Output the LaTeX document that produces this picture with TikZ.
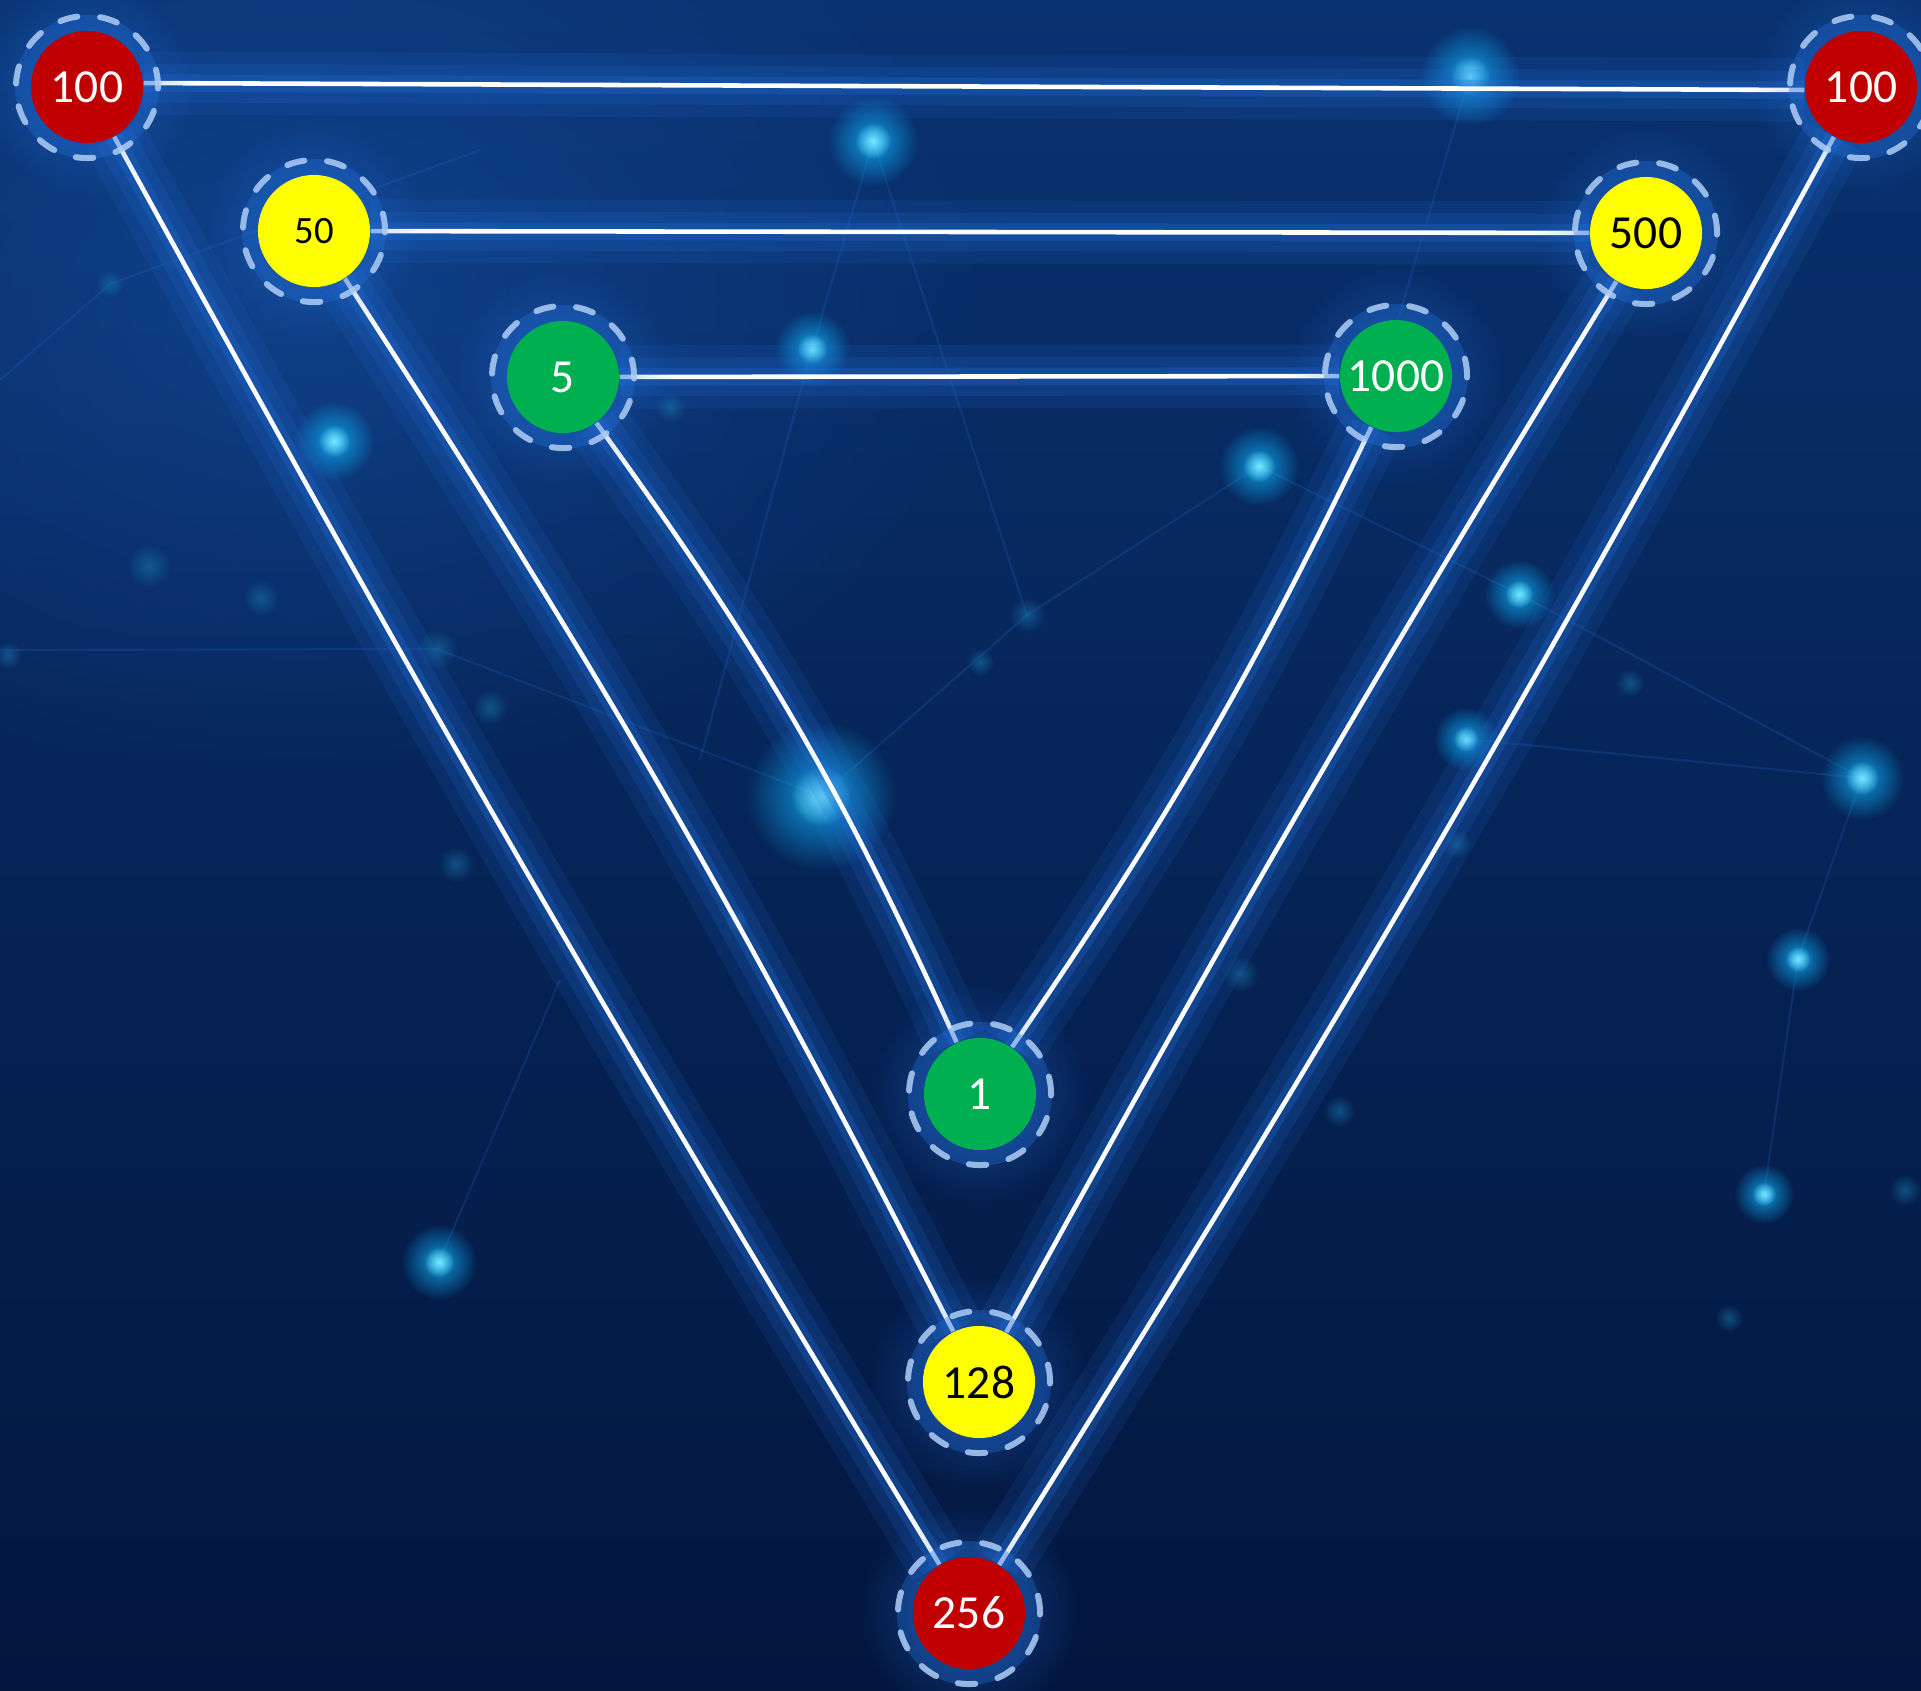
\documentclass[tikz,border=0pt]{standalone}
\usepackage{fontspec}
\setmainfont{Carlito}
\usetikzlibrary{fadings}

\definecolor{ballred}{RGB}{192,0,0}
\definecolor{ballyellow}{RGB}{255,255,0}
\definecolor{ballgreen}{RGB}{0,176,80}
\definecolor{bgtop}{RGB}{9,50,112}
\definecolor{bgbottom}{RGB}{3,22,62}
\definecolor{glowblue}{RGB}{35,110,215}
\definecolor{ringblue}{RGB}{175,205,245}
\definecolor{sparkcyan}{RGB}{15,185,255}
\definecolor{sparkcore}{RGB}{120,230,255}
\definecolor{dotteal}{RGB}{25,120,170}

\tikzfading[name=softglow, inner color=transparent!0, outer color=transparent!100]

\pgfdeclarelayer{back}
\pgfdeclarelayer{wires}
\pgfdeclarelayer{halo}
\pgfsetlayers{back,wires,halo,main}

\begin{document}
\begin{tikzpicture}[
 x=0.01cm, y=-0.01cm,
 ball/.style={circle, minimum size=1.12cm, inner sep=0pt, font=\fontsize{13.5}{15}\selectfont},
 redball/.style={ball, fill=ballred, text=white},
 yellowball/.style={ball, fill=ballyellow, text=black},
 greenball/.style={ball, fill=ballgreen, text=white},
 wire/.style={draw=white, line width=1.3pt,
   preaction={draw=glowblue, line width=18pt, draw opacity=0.13},
   preaction={draw=glowblue, line width=11pt, draw opacity=0.17},
   preaction={draw=glowblue, line width=5pt, draw opacity=0.28}},
 ring/.style={draw=ringblue, draw opacity=0.85, line width=1.7pt, line cap=round, dash pattern=on 5pt off 6.5pt},
 halo/.style={fill=glowblue, fill opacity=0.5, path fading=softglow},
 spark/.style={fill=sparkcyan, fill opacity=0.8, path fading=softglow},
 mote/.style={fill=dotteal, fill opacity=0.55, path fading=softglow},
 web/.style={draw=glowblue, draw opacity=0.2, line width=0.6pt}
]
\useasboundingbox (0,0) rectangle (1921,1690);

% the nine values
\node[redball] (r100a) at (87,87) {100};
\node[redball] (r100b) at (1861,87) {100};
\node[yellowball, font=\fontsize{11}{13}\selectfont] (y50) at (314,231) {50};
\node[yellowball] (y500) at (1646,233) {500};
\node[greenball] (g5) at (563,377) {5};
\node[greenball] (g1000) at (1396,376) {1000};
\node[greenball] (g1) at (980,1094) {1};
\node[yellowball] (y128) at (979,1382) {128};
\node[redball] (r256) at (969,1613) {256};

% background
\begin{pgfonlayer}{back}
\shade[top color=bgtop, bottom color=bgbottom] (0,0) rectangle (1921,1690);
\fill[glowblue, fill opacity=0.3, path fading=softglow] (300,300) ellipse (7cm and 5cm);
\foreach \a/\b/\c/\d in {0/380/110/284, 110/284/480/150, 873/141/812/349, 812/349/700/760,
  873/141/1027/615, 1027/615/1259/466, 1259/466/1519/594, 1519/594/1862/778,
  1862/778/1798/959, 1466/739/1862/778, 0/650/437/649, 437/649/821/796,
  821/796/1027/615, 1798/959/1764/1194, 439/1262/560/980, 1470/76/1380/380}
  \draw[web] (\a,\b) -- (\c,\d);
\foreach \x/\y/\r in {149/566/0.22, 261/598/0.18, 437/649/0.2, 490/707/0.18, 456/864/0.18,
  1027/615/0.18, 980/662/0.14, 110/284/0.14, 670/407/0.16, 1339/1111/0.16, 1241/974/0.18,
  1457/844/0.14, 1630/683/0.14, 1905/1190/0.16, 1729/1318/0.14, 8/655/0.14, 736/920/0.12}
  \fill[mote] (\x,\y) circle (\r cm);
\foreach \x/\y/\r in {873/141/0.45, 1470/76/0.5, 812/349/0.38, 334/441/0.4, 1259/466/0.4,
  1519/594/0.35, 1466/739/0.32, 1862/778/0.42, 1798/959/0.32, 1764/1194/0.3, 439/1262/0.38,
  821/796/0.75}
  {\fill[spark] (\x,\y) circle (\r cm);
   \fill[sparkcore, path fading=softglow] (\x,\y) circle (0.4*\r cm);}
\end{pgfonlayer}

% connectors
\begin{pgfonlayer}{wires}
\draw[wire] (r100a.4) -- (r100b.183);
\draw[wire] (y50) -- (y500);
\draw[wire] (g5) -- (g1000);
\draw[wire] (r100a) to[bend right=1.3] (r256);
\draw[wire] (r100b) to[bend left=1.8] (r256);
\draw[wire] (y50) to[bend left=3] (y128);
\draw[wire] (y500) to[bend right=1.4] (y128);
\draw[wire] (g5) to[bend left=5.8] (g1);
\draw[wire] (g1000) to[bend left=4.3] (g1);
\end{pgfonlayer}

% halos and dashed rings
\begin{pgfonlayer}{halo}
\foreach \n in {r100a, r100b, y50, y500, g5, g1000, g1, y128, r256}
{
  \fill[halo] (\n) circle (1.1cm);
  \fill[glowblue, fill opacity=0.35] (\n) circle (0.72cm);
  \draw[ring] (\n) circle (0.71cm);
}
\end{pgfonlayer}
\end{tikzpicture}
\end{document}
